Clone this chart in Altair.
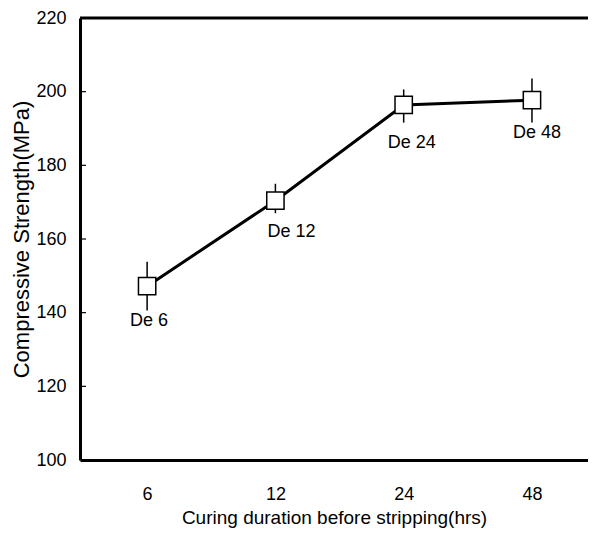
import altair as alt
import pandas as pd

# ---- data ----
hours = ["6", "12", "24", "48"]
strength = [147.2, 170.4, 196.4, 197.7]
err_low = [140.6, 167.0, 191.6, 191.6]
err_high = [153.8, 175.0, 200.6, 203.6]
labels = ["De 6", "De 12", "De 24", "De 48"]
y_ticks = [100, 120, 140, 160, 180, 200, 220]
inner_ticks = [120, 140, 160, 180, 200]

# label placement tweaks (style only)
label_dx = [2, 16, 8, 5]
label_dy = [35, 31, 38, 33]

FONT = "Liberation Sans, Arial, sans-serif"

df = pd.DataFrame({
    "hrs": hours,
    "strength": strength,
    "lo": err_low,
    "hi": err_high,
    "label": labels,
})

x_scale = alt.Scale(type="point", padding=0.48, align=0.545)
x_enc = alt.X("hrs:O", sort=hours, scale=x_scale,
              axis=alt.Axis(title="Curing duration before stripping(hrs)",
                            labelAngle=0, ticks=False, labelPadding=25,
                            titlePadding=5, domainWidth=3, domainColor="black",
                            labelFontSize=18, titleFontSize=19,
                            labelFont=FONT, titleFont=FONT,
                            titleFontWeight="normal", labelColor="black",
                            titleColor="black"))
y_scale = alt.Scale(domain=[100, 220], nice=False, zero=False)
y_enc = alt.Y("strength:Q", scale=y_scale,
              axis=alt.Axis(title="Compressive Strength(MPa)", values=y_ticks,
                            ticks=False, labelPadding=14, titlePadding=2,
                            domainWidth=3, domainColor="black", grid=False,
                            labelFontSize=18, titleFontSize=22,
                            labelFont=FONT, titleFont=FONT,
                            titleFontWeight="normal", labelColor="black",
                            titleColor="black"))

base = alt.Chart(df)

line = base.mark_line(color="black", strokeWidth=3).encode(x=x_enc, y=y_enc)

errs = base.mark_rule(color="black", strokeWidth=1.5).encode(
    x=alt.X("hrs:O", sort=hours, scale=x_scale), y=alt.Y("lo:Q", scale=y_scale), y2="hi:Q")

points = base.mark_point(shape="square", filled=True, fill="white",
                         stroke="black", strokeWidth=1.5, size=300,
                         opacity=1).encode(
    x=alt.X("hrs:O", sort=hours, scale=x_scale), y=alt.Y("strength:Q", scale=y_scale))

top_line = alt.Chart(pd.DataFrame({"v": [220]})).mark_rule(
    color="black", strokeWidth=3).encode(y=alt.Y("v:Q", scale=y_scale))

tick_df = pd.DataFrame({"t": inner_ticks})
tick_marks = alt.Chart(tick_df).mark_rule(color="black", strokeWidth=1.2).encode(
    y=alt.Y("t:Q", scale=y_scale), x=alt.value(0), x2=alt.value(6))

text_layers = []
for i, h in enumerate(hours):
    text_layers.append(
        base.transform_filter(alt.datum.hrs == h).mark_text(
            dx=label_dx[i], dy=label_dy[i], fontSize=18, font=FONT,
            color="black", baseline="middle", align="center").encode(
            x=alt.X("hrs:O", sort=hours, scale=x_scale),
            y=alt.Y("strength:Q", scale=y_scale),
            text="label:N"))

chart = alt.layer(tick_marks, top_line, line, errs, points, *text_layers).properties(
    width=508, height=442,
    autosize=alt.AutoSizeParams(type="none"),
    padding={"left": 72, "top": 10, "right": 0, "bottom": 70},
).configure_view(stroke=None).configure(background="white")

chart.save("out.html", embed_options={"renderer": "svg", "actions": False})
